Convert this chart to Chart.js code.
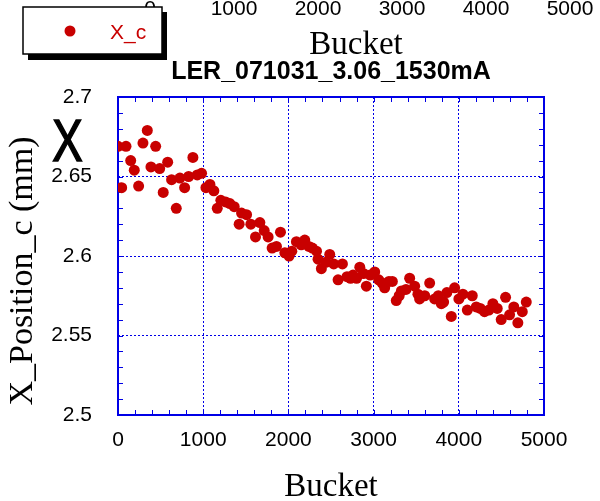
<!DOCTYPE html>
<html>
<head>
<meta charset="utf-8">
<script src="https://cdn.jsdelivr.net/npm/chart.js@4/dist/chart.umd.min.js"></script>
<style>
html, body { margin: 0; padding: 0; background: #fff; }
</style>
</head>
<body>
<canvas id="grafico" width="600" height="501"></canvas>
<script>
// 1. Datos: posición X medida por bucket
const bucket = [
    0, 43, 94, 149, 191, 242, 293, 344, 387, 442,
    489, 531, 583, 629, 684, 727, 782, 829, 879, 930,
    981, 1032, 1079, 1125, 1165, 1207, 1263, 1313, 1364, 1422,
    1450, 1509, 1559, 1614, 1665, 1716, 1762, 1809, 1860, 1907,
    1958, 2008, 2040, 2094, 2150, 2192, 2240, 2282, 2330, 2348,
    2387, 2440, 2485, 2532, 2583, 2634, 2688, 2730, 2759, 2800,
    2838, 2880, 2915, 2960, 3013, 3060, 3100, 3130, 3180, 3220,
    3266, 3300, 3326, 3380, 3423, 3482, 3520, 3540, 3600, 3658,
    3716, 3760, 3795, 3822, 3860, 3912, 3951, 4001, 4048, 4100,
    4158, 4205, 4252, 4302, 4353, 4400, 4451, 4498, 4549, 4596,
    4646, 4693, 4745, 4792
];
const xPos = [
    2.669, 2.643, 2.669, 2.660, 2.654, 2.644, 2.671, 2.679, 2.656, 2.669,
    2.655, 2.640, 2.659, 2.648, 2.630, 2.649, 2.643, 2.650, 2.662, 2.651,
    2.652, 2.643, 2.645, 2.641, 2.630, 2.635, 2.634, 2.633, 2.631, 2.620,
    2.627, 2.626, 2.620, 2.612, 2.621, 2.616, 2.612, 2.605, 2.606, 2.615,
    2.602, 2.600, 2.603, 2.609, 2.607, 2.610, 2.606, 2.605, 2.603, 2.598,
    2.592, 2.596, 2.601, 2.595, 2.585, 2.595, 2.587, 2.586, 2.588, 2.586,
    2.593, 2.589, 2.581, 2.588, 2.590, 2.585, 2.583, 2.580, 2.584, 2.584,
    2.572, 2.575, 2.578, 2.579, 2.586, 2.581, 2.576, 2.573, 2.575, 2.583,
    2.573, 2.575, 2.570, 2.571, 2.577, 2.562, 2.580, 2.573, 2.576, 2.566,
    2.575, 2.568, 2.567, 2.565, 2.566, 2.570, 2.567, 2.560, 2.574, 2.563,
    2.568, 2.558, 2.565, 2.571
];
const xTicks = [0, 1000, 2000, 3000, 4000, 5000];
const yTicks = [2.5, 2.55, 2.6, 2.65, 2.7];
const titulo = 'LER_071031_3.06_1530mA';
const serie = 'X_c';
const tituloY = 'X_Position_c (mm)';

const ROJO = '#c80000';
const AZUL = '#0000e6';
const SANS = '"Liberation Sans", Arial, sans-serif';
const SERIF = '"Liberation Serif", "Times New Roman", serif';

// 2. Marco, ticks menores, leyenda y textos sueltos
const decoracion = {
    id: 'decoracion',
    beforeDatasetsDraw(chart) {
        const { ctx, chartArea: a, scales } = chart;
        ctx.save();
        ctx.strokeStyle = AZUL;
        ctx.lineWidth = 1;
        // ticks menores hacia dentro
        ctx.beginPath();
        for (let v = 0; v <= 5000; v += 200) {
            const px = Math.round(scales.x.getPixelForValue(v)) + 0.5;
            ctx.moveTo(px, a.top); ctx.lineTo(px, a.top + 5);
            ctx.moveTo(px, a.bottom); ctx.lineTo(px, a.bottom - 5);
        }
        for (let i = 0; i <= 20; i++) {
            const py = Math.round(scales.y.getPixelForValue(2.5 + i * 0.01)) + 0.5;
            ctx.moveTo(a.left, py); ctx.lineTo(a.left + 5, py);
            ctx.moveTo(a.right, py); ctx.lineTo(a.right - 5, py);
        }
        ctx.stroke();
        // marco completo
        ctx.lineWidth = 2;
        ctx.strokeRect(a.left, a.top, a.right - a.left, a.bottom - a.top);
        ctx.restore();
    },
    afterDraw(chart) {
        const ctx = chart.ctx;
        ctx.save();
        ctx.fillStyle = '#000';
        // eje superior
        ctx.font = '21px ' + SANS;
        ctx.textAlign = 'center';
        ctx.textBaseline = 'alphabetic';
        xTicks.forEach((t, i) => ctx.fillText(String(t), 150 + i * 84, 15));
        ctx.font = '33px ' + SERIF;
        ctx.textBaseline = 'middle';
        ctx.fillText('Bucket', 356, 45);

        // título del eje Y
        ctx.save();
        ctx.translate(23, 271);
        ctx.rotate(-Math.PI / 2);
        ctx.font = '34px ' + SERIF;
        ctx.fillText(tituloY, 0, 0);
        ctx.restore();

        // leyenda con sombra
        ctx.fillStyle = '#000';
        ctx.fillRect(28, 12, 139, 48);
        ctx.fillStyle = '#fff';
        ctx.fillRect(23, 7, 139, 47);
        ctx.strokeStyle = '#000';
        ctx.lineWidth = 1.5;
        ctx.strokeRect(23, 7, 139, 47);
        ctx.fillStyle = ROJO;
        ctx.beginPath();
        ctx.arc(70, 31, 5.5, 0, Math.PI * 2);
        ctx.fill();
        ctx.font = '21px ' + SANS;
        ctx.textAlign = 'left';
        ctx.textBaseline = 'alphabetic';
        ctx.fillText(serie, 110, 39);

        // X grande
        ctx.fillStyle = '#000';
        ctx.strokeStyle = '#000';
        ctx.lineWidth = 1.6;
        ctx.font = '60px ' + SANS;
        ctx.textAlign = 'center';
        ctx.translate(67.5, 161);
        ctx.scale(0.76, 1);
        ctx.fillText('X', 0, 0);
        ctx.strokeText('X', 0, 0);
        ctx.restore();
    }
};

// 3. Gráfico de dispersión
const ctx = document.getElementById('grafico').getContext('2d');
const chart = new Chart(ctx, {
    type: 'scatter',
    data: {
        datasets: [{
            label: serie,
            data: bucket.map((b, i) => ({ x: b, y: xPos[i] })),
            backgroundColor: ROJO,
            borderWidth: 0,
            pointRadius: 5.5,
            pointHoverRadius: 5.5
        }]
    },
    options: {
        responsive: false,
        animation: false,
        events: [],
        layout: { padding: { left: 0, right: 56, top: 0, bottom: 0 } },
        plugins: {
            legend: { display: false },
            tooltip: { enabled: false },
            title: {
                display: true,
                text: titulo,
                fullSize: false,
                color: '#000',
                font: { family: SANS, size: 25, weight: 'bold' },
                padding: { top: 57, bottom: 10 }
            }
        },
        scales: {
            x: {
                type: 'linear',
                min: 0,
                max: 5000,
                afterFit: s => { s.height = 86; },
                afterBuildTicks: s => { s.ticks = xTicks.map(v => ({ value: v })); },
                ticks: {
                    color: '#000',
                    font: { family: SANS, size: 21 },
                    padding: 13,
                    maxRotation: 0,
                    callback: v => String(v)
                },
                grid: { color: AZUL, lineWidth: 1, drawTicks: false },
                border: { display: false, dash: [2, 2] },
                title: {
                    display: true,
                    text: 'Bucket',
                    color: '#000',
                    font: { family: SERIF, size: 33, lineHeight: 0.8 },
                    padding: { top: 0, bottom: 0 }
                }
            },
            y: {
                min: 2.5,
                max: 2.7,
                afterFit: s => { s.width = 118; },
                afterBuildTicks: s => { s.ticks = yTicks.map(v => ({ value: v })); },
                ticks: {
                    color: '#000',
                    font: { family: SANS, size: 21 },
                    padding: 26,
                    callback: v => String(+v.toFixed(2))
                },
                grid: { color: AZUL, lineWidth: 1, drawTicks: false },
                border: { display: false, dash: [2, 2] }
            }
        }
    },
    plugins: [decoracion]
});
</script>
</body>
</html>
